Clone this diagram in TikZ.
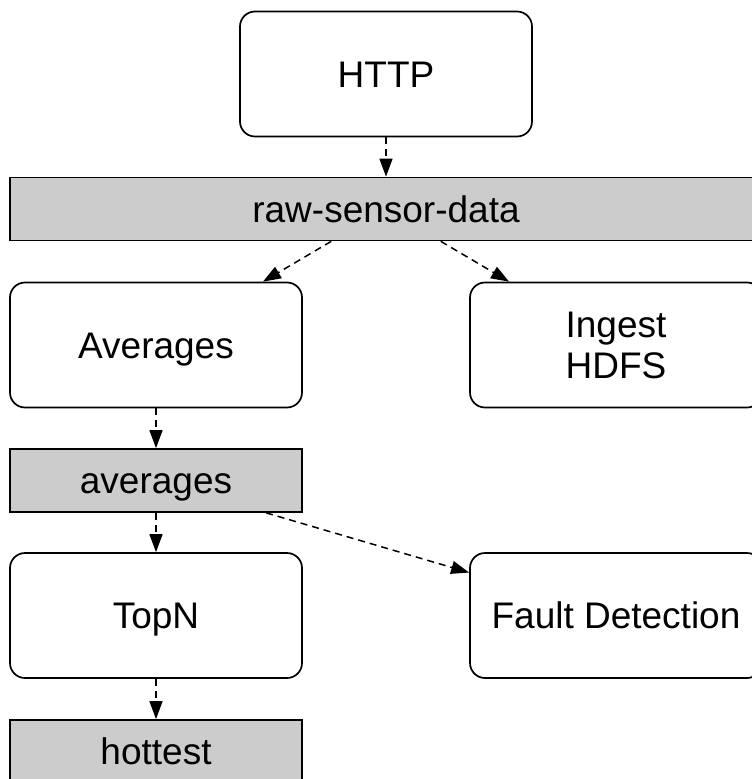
\documentclass[tikz,border=0pt]{standalone}
\usepackage{fontspec}
\setmainfont{Liberation Sans}
\usetikzlibrary{arrows.meta}
\definecolor{topicgray}{HTML}{CCCCCC}
\tikzset{
    job/.style={draw, line width=1.7pt, rounded corners=15pt, minimum width=292pt,
        minimum height=125pt, inner sep=0pt, align=center, font=\fontsize{37}{41}\selectfont},
    oneline/.style={text height=26.5pt, text depth=0pt},
    topic/.style={draw, line width=1.7pt, fill=topicgray, minimum height=63pt,
        inner sep=0pt, oneline, font=\fontsize{37}{41}\selectfont},
    flow/.style={line width=1.5pt, dash pattern=on 7pt off 5pt,
        -{Triangle[length=18pt,width=13pt]}}
}
\begin{document}
\begin{tikzpicture}[x=1pt,y=-1pt]
    \path[use as bounding box, clip] (0,0) rectangle (752,779);
    % jobs and topics
    \node[job, oneline] (http) at (386,74) {HTTP};
    \node[topic, minimum width=752pt] (raw) at (386,209) {raw-sensor-data};
    \node[job, oneline] (avgjob) at (156,345) {Averages};
    \node[job] (ingest) at (616,345) {Ingest\\HDFS};
    \node[topic, minimum width=292pt] (avgtopic) at (156,480.5) {averages};
    \node[job, oneline] (topn) at (156,615.5) {TopN};
    \node[job, oneline] (fault) at (616,615.5) {Fault Detection};
    \node[topic, minimum width=292pt] (hottest) at (156,751.5) {hottest};
    % data flow
    \draw[flow] (http) -- (raw);
    \draw[flow] (raw) -- (avgjob);
    \draw[flow] (raw) -- (ingest);
    \draw[flow] (avgjob) -- (avgtopic);
    \draw[flow] (avgtopic) -- (topn);
    \draw[flow] (avgtopic) -- (fault);
    \draw[flow] (topn) -- (hottest);
\end{tikzpicture}
\end{document}
